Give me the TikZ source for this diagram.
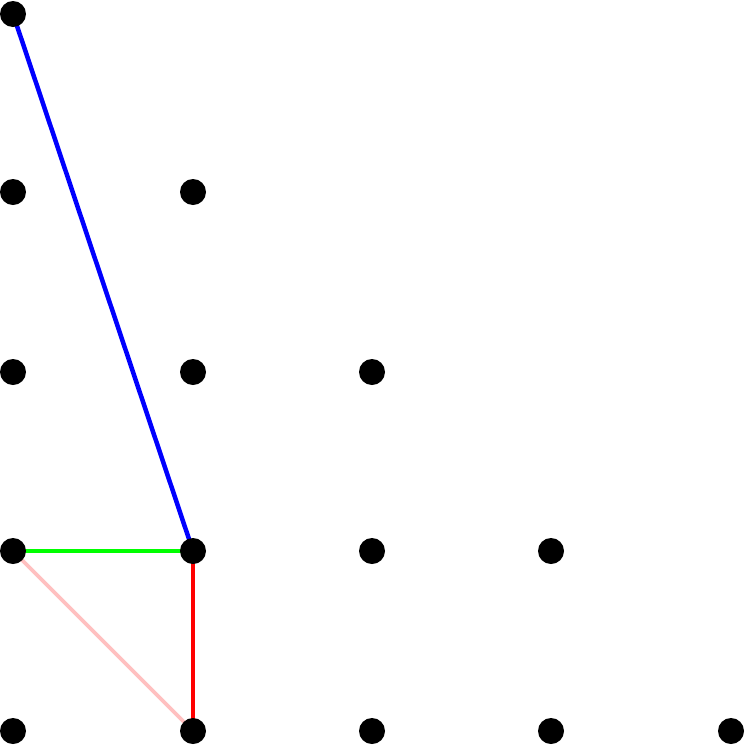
\documentclass[tikz,border=0pt]{standalone}
\begin{document}
\begin{tikzpicture}[x=1pt,y=-1pt,
  dot/.style={circle,fill=black,draw=none,minimum size=26pt,inner sep=0pt},
  seg/.style={line width=4.5pt}]
\useasboundingbox (0,0) rectangle (745,745);
\coordinate (q04) at (13,14);
\coordinate (q13) at (193,551);
\coordinate (q03) at (13,551);
\coordinate (q14) at (193,731);
\draw[seg,blue] (q04) -- (q13);
\draw[seg,green] (q03) -- (q13);
\draw[seg,red] (q13) -- (q14);
\draw[line width=3.8pt,color={rgb,255:red,255;green,192;blue,192}] (q03) -- (q14);
\node[dot] (d00) at (q04) {};
\node[dot] (d10) at (13,192) {};
\node[dot] (d11) at (193,192) {};
\node[dot] (d20) at (13,372) {};
\node[dot] (d21) at (193,372) {};
\node[dot] (d22) at (372,372) {};
\node[dot] (d30) at (q03) {};
\node[dot] (d31) at (q13) {};
\node[dot] (d32) at (372,551) {};
\node[dot] (d33) at (551,551) {};
\node[dot] (d40) at (13,731) {};
\node[dot] (d41) at (q14) {};
\node[dot] (d42) at (372,731) {};
\node[dot] (d43) at (551,731) {};
\node[dot] (d44) at (731,731) {};
\end{tikzpicture}
\end{document}
